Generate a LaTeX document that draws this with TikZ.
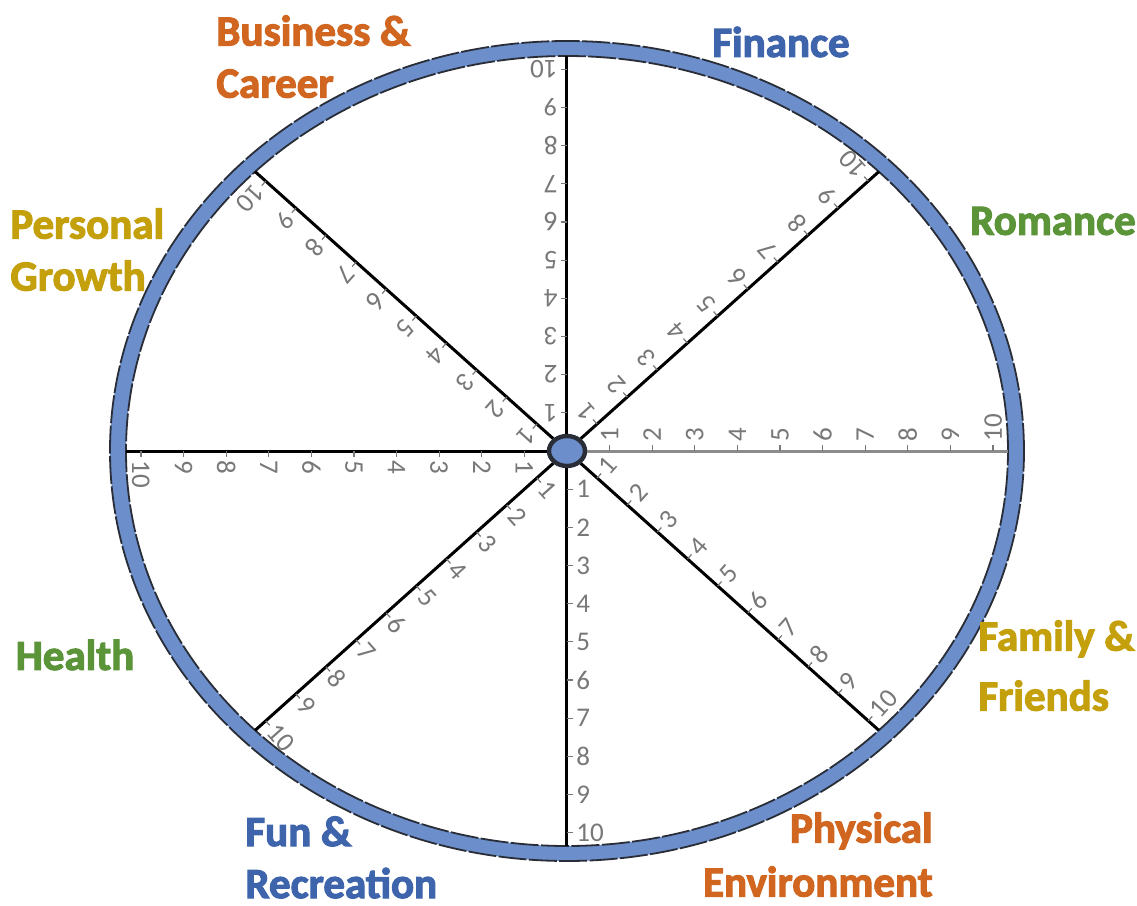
\documentclass[tikz,border=0pt]{standalone}
\usepackage{fontspec}
\usetikzlibrary{calc,shapes.geometric}
\newfontfamily\lblfont[BoldFeatures={FakeBold=2.5}]{Carlito}
\newfontfamily\tickfont{Carlito}
\definecolor{ringblue}{RGB}{108,142,202}
\definecolor{hubdark}{RGB}{40,45,55}
\definecolor{cOrange}{RGB}{208,102,32}
\definecolor{cBlue}{RGB}{62,100,172}
\definecolor{cGreen}{RGB}{92,148,58}
\definecolor{cGold}{RGB}{196,160,12}
\definecolor{tickgray}{RGB}{120,120,120}
\definecolor{axisgray}{RGB}{140,140,140}
\begin{document}
\begin{tikzpicture}[x=0.5pt,y=0.5pt,
  catlabel/.style={font=\lblfont\bfseries\fontsize{21.5}{26}\selectfont, inner sep=0pt},
  spoke/.style={line width=1.5pt},
  ticklbl/.style={font=\tickfont\fontsize{13.5}{13.5}\selectfont, text=tickgray, inner sep=0pt, anchor=west},
  tickmark/.style={draw=tickgray, line width=0.6pt},
  ringline/.style={draw=hubdark, line width=0.9pt, dash pattern=on 14pt off 1.2pt}
]
\useasboundingbox (-567,-455) rectangle (570,451);
\fill[white] (-567,-455) rectangle (570,451);
% ring
\fill[ringblue, even odd rule] (0,0) ellipse [x radius=457, y radius=410] (0,0) ellipse [x radius=441, y radius=395];
\draw[ringline] (0,0) ellipse [x radius=457, y radius=410];
\draw[ringline] (0,0) ellipse [x radius=441, y radius=395];
% spoke ends
\coordinate (eE) at (441,0);
\coordinate (eN) at (0,395);
\coordinate (eW) at (-441,0);
\coordinate (eS) at (0,-395);
\coordinate (eNE) at (311.8,279.3);
\coordinate (eNW) at (-311.8,279.3);
\coordinate (eSW) at (-311.8,-279.3);
\coordinate (eSE) at (311.8,-279.3);
% hub
\node[ellipse, draw=hubdark, line width=2.2pt, fill=ringblue, minimum width=18pt, minimum height=15pt, inner sep=0pt] (hub) at (0,0) {};
% spokes with scales
\foreach \n/\a/\c in {E/0/axisgray, NE/41.85/black, N/90/black, NW/138.15/black, W/180/black, SW/221.85/black, S/270/black, SE/318.15/black} {
  \draw[spoke, draw=\c] (hub) -- (e\n);
  \foreach \k in {1,...,10} {
    \coordinate (p\n\k) at ($(hub.center)!\k/10.35!(e\n)$);
    \draw[tickmark] (p\n\k) -- ++(\a+90:6);
    \node[ticklbl, rotate=\a+90] (t\n\k) at ($(p\n\k)+(\a+90:9)$) {\k};
  }
}
% category labels
\node[catlabel, text=cBlue] (finance) at (214,409) {Finance};
\node[catlabel, text=cGreen] (romance) at (486,230) {Romance};
\node[catlabel, text=cGreen] (health) at (-492,-204) {Health};
\node[catlabel, text=cOrange, anchor=north west, align=left] (business) at (-351,436) {Business \&\\Career};
\node[catlabel, text=cGold, anchor=north west, align=left] (personal) at (-557,243) {Personal\\Growth};
\node[catlabel, text=cGold, anchor=north west, align=left, font=\lblfont\bfseries\fontsize{21.5}{30}\selectfont] (family) at (411,-169) {Family \&\\Friends};
\node[catlabel, text=cBlue, anchor=north west, align=left] (fun) at (-322,-365) {Fun \&\\Recreation};
\node[catlabel, text=cOrange, anchor=north east, align=right, font=\lblfont\bfseries\fontsize{21.5}{27}\selectfont] (physical) at (366,-361) {Physical\\Environment};
\end{tikzpicture}
\end{document}
